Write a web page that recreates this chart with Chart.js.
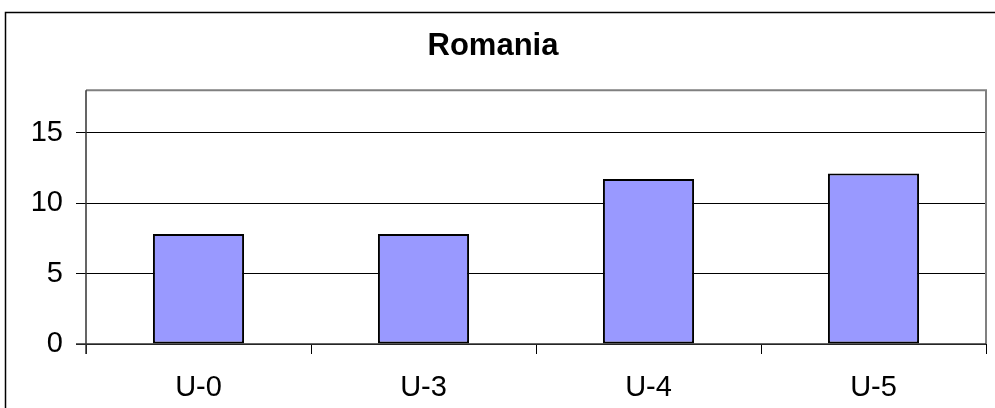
<!DOCTYPE html>
<html>
<head>
<meta charset="utf-8">
<script src="https://cdn.jsdelivr.net/npm/chart.js@4.4.0/dist/chart.umd.min.js"></script>
<style>
  html, body { margin: 0; padding: 0; background: #fff; }
  #wrap { width: 995px; height: 408px; position: relative; }
</style>
</head>
<body>
<div id="wrap"><canvas id="chart"></canvas></div>
<script>
// data
const categories = ['U-0', 'U-3', 'U-4', 'U-5'];
const values = [7.8, 7.8, 11.7, 12.1];
const yTicks = [0, 5, 10, 15];
const chartTitle = 'Romania';

const FONT = "'Liberation Sans', Arial, sans-serif";

// outer frame + grey plot border, like the old Excel chart
const frames = {
    id: 'frames',
    afterDraw(chart) {
        const ctx = chart.ctx;
        const a = chart.chartArea;
        ctx.save();
        ctx.strokeStyle = '#000';
        ctx.lineWidth = 1.5;
        ctx.strokeRect(5.5, 12.5, 1200, 600);
        ctx.strokeStyle = '#808080';
        ctx.lineWidth = 2;
        ctx.beginPath();
        ctx.moveTo(a.left, a.top);
        ctx.lineTo(a.right, a.top);
        ctx.lineTo(a.right, a.bottom);
        ctx.stroke();
        ctx.strokeStyle = '#333';
        ctx.lineWidth = 1.5;
        ctx.beginPath();
        ctx.moveTo(a.left, a.top);
        ctx.lineTo(a.left, a.bottom + 10);
        ctx.moveTo(a.left - 10, a.bottom);
        ctx.lineTo(a.right, a.bottom);
        ctx.stroke();
        ctx.restore();
    }
};

new Chart(document.getElementById('chart'), {
    type: 'bar',
    data: {
        labels: categories,
        datasets: [{
            label: chartTitle,
            data: values,
            backgroundColor: '#9999FF',
            borderColor: '#000',
            borderWidth: 2,
            borderSkipped: false,
            categoryPercentage: 1,
            barPercentage: 0.405
        }]
    },
    options: {
        responsive: true,
        maintainAspectRatio: false,
        animation: false,
        layout: { padding: { left: 0, right: 9, top: 0, bottom: 0 } },
        scales: {
            x: {
                grid: {
                    offset: true,
                    drawOnChartArea: false,
                    drawTicks: true,
                    tickLength: 10,
                    color: '#000'
                },
                border: { display: false },
                ticks: {
                    color: '#000',
                    padding: 17,
                    font: { family: FONT, size: 29 }
                },
                afterFit(scale) { scale.height = 64; }
            },
            y: {
                min: 0,
                max: 18,
                afterBuildTicks(scale) { scale.ticks = yTicks.map(v => ({ value: v })); },
                grid: {
                    color: '#000',
                    lineWidth: 1,
                    tickLength: 10,
                    drawTicks: true
                },
                border: { display: false },
                ticks: {
                    color: '#000',
                    padding: 13,
                    font: { family: FONT, size: 29 }
                },
                afterFit(scale) { scale.width = 86; }
            }
        },
        plugins: {
            legend: { display: false },
            tooltip: { enabled: false },
            title: {
                display: true,
                text: chartTitle,
                color: '#000',
                font: { family: FONT, size: 31, weight: 'bold' },
                padding: { top: 28, bottom: 25 }
            }
        }
    },
    plugins: [frames]
});
</script>
</body>
</html>
